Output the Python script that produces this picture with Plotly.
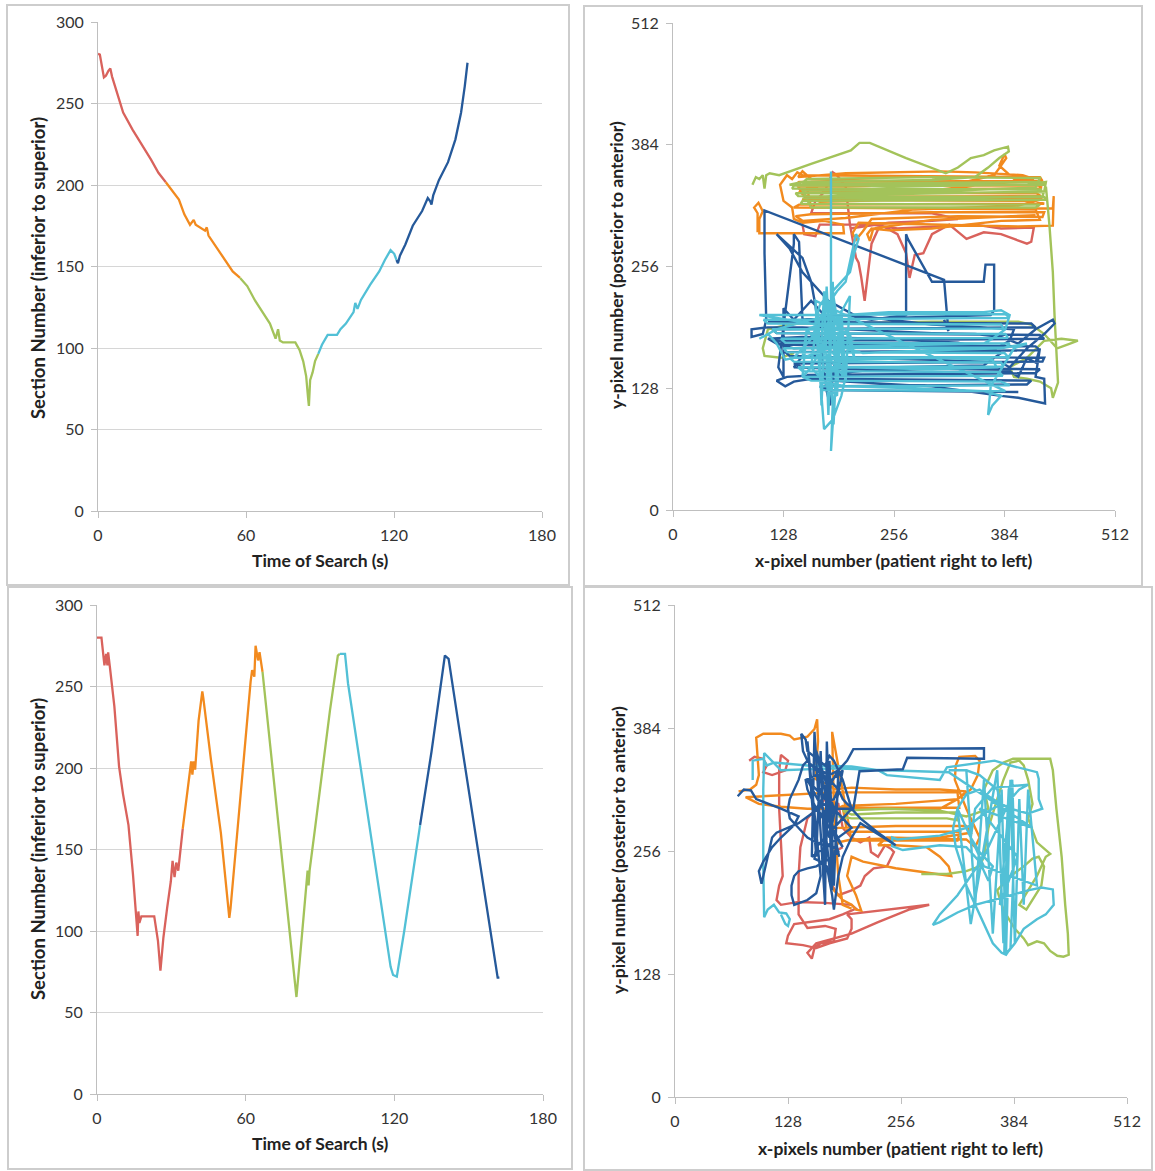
import plotly.graph_objects as go

W, H = 1155, 1171

# ---------------- data: top-left (time vs section) ----------------
TL_RED_T = [0, 0.75, 2.4, 3.2, 4.2, 5.0, 5.7, 8.0, 10.2, 14.0, 17.8, 21.5, 24.5, 27.5]
TL_RED_V = [280.5, 280, 266, 267, 270, 271.5, 266.5, 255, 244.5, 234, 225, 215.6, 207.5, 201.7]
TL_ORA_T = [27.5, 30.5, 32.8, 35.0, 37.3, 38.8, 39.6, 43.4, 44.1, 44.8, 47.9, 51.6, 54.6, 57.6]
TL_ORA_V = [201.7, 196, 191, 182, 175.6, 178.6, 175.6, 172, 174, 169, 162, 153, 147, 143]
TL_GRN_T = [57.6, 60.5, 63.7, 66.7, 69.7, 72.0, 73.0, 73.7, 75.0, 80.0, 81.7, 83.2, 84.4, 85.2, 85.5, 86.0, 87.0, 88.0, 89.3]
TL_GRN_V = [143, 138, 129, 122, 115, 105.7, 111.5, 104.6, 103.4, 103.4, 98.8, 91.8, 82.6, 68.7, 64.5, 80.3, 85, 92, 96.4]
TL_CYA_T = [89.3, 90.8, 93.1, 96.9, 98.3, 100.5, 103.6, 104.3, 105.2, 106.6, 110.3, 114.0, 116.3, 118.6, 120.1, 121.0]
TL_CYA_V = [96.4, 102, 108, 108, 111.5, 115, 122, 127.7, 124, 129.5, 138.7, 147, 154, 160, 157.8, 154]
TL_BLU_T = [121.0, 121.6, 122.4, 124.6, 127.6, 131.4, 133.7, 134.7, 135.2, 135.9, 138.2, 141.9, 144.9, 147.2, 148.7, 149.8]
TL_BLU_V = [154, 152, 156.6, 163.5, 175, 184, 192, 190, 188, 193.6, 203, 214, 228, 244.5, 260.7, 275]

# ---------------- data: bottom-left (time vs section) ----------------
BL_RED_T = [0, 1.8, 3.0, 3.7, 4.2, 4.5, 5.2, 7.0, 8.9, 10.5, 12.7, 14.5, 16.4, 16.7, 17.1, 17.9, 23.1, 24.6, 25.6, 26.8, 28.3, 29.8, 30.5, 31.3, 32.0, 32.8, 34.6]
BL_RED_V = [280, 280, 263, 270, 263, 271, 262, 238, 201, 184, 165, 135, 97, 112, 105, 109, 109, 94, 75.6, 96, 114, 130.5, 143, 133, 142, 137, 162.6]
BL_ORA_T = [34.6, 36.0, 37.3, 38.0, 38.5, 39.0, 39.6, 41.0, 42.5, 42.9, 46.0, 50.0, 53.4, 53.9, 56.0, 58.0, 59.6, 61.0, 62.0, 62.6, 63.5, 64.0, 65.0, 65.6, 66.2, 66.8]
BL_ORA_V = [162.6, 180, 197, 204, 196, 204, 199, 229, 247, 243, 205, 160, 108, 114, 150, 185, 216, 240, 253, 260, 256, 275, 266, 271, 263, 259]
BL_GRN_T = [66.8, 70.0, 73.0, 76.0, 78.5, 80.5, 82.0, 83.5, 85.0, 85.4, 85.8, 88.0, 91.0, 94.0, 97.2, 98.0]
BL_GRN_V = [259, 212, 168, 124, 89, 59.5, 85, 112, 137, 128, 137, 163, 199, 235, 269, 270]
BL_CYA_T = [98.0, 100.1, 101.3, 105.0, 110.0, 115.0, 118.5, 119.5, 121.0, 124.0, 127.0, 130.4]
BL_CYA_V = [270, 270, 252, 214, 163, 113, 78, 73, 72, 100, 130, 165]
BL_BLU_T = [130.4, 135.0, 140.4, 141.9, 146.0, 150.0, 155.0, 160.0, 161.7, 162.4]
BL_BLU_V = [165, 210, 269, 267, 226, 187, 138, 88, 71.4, 71.4]

# ---------------- data: top-right (x-pixel, y-pixel) ----------------
TR_RED = [(150, 300), (152, 290), (165, 288), (170, 300), (200, 300), (230, 300), (260, 296), (300, 298), (350, 300), (380, 296),
          (418, 297), (415, 282), (410, 280), (395, 285), (380, 290), (360, 292), (340, 285), (320, 300), (300, 290), (290, 270),
          (280, 268), (274, 244), (270, 270), (260, 290), (240, 300), (230, 280), (225, 240), (222, 220), (218, 245), (215, 260),
          (212, 265), (205, 300), (200, 340), (190, 352), (185, 355), (180, 345), (176, 335), (170, 330), (165, 325), (160, 312),
          (300, 312), (330, 306), (300, 304), (250, 302), (205, 296)]
TR_ORA = [(98, 292), (98, 312), (94, 318), (99, 323), (104, 314), (100, 306), (100, 291), (198, 291), (197, 300), (175, 304),
          (150, 302), (140, 306), (138, 318), (128, 325), (124, 342), (132, 352), (138, 348), (144, 355), (150, 352), (425, 350),
          (428, 346), (146, 345), (142, 342), (424, 341), (427, 338), (150, 337), (146, 334), (421, 333), (426, 330), (154, 329),
          (150, 326), (420, 325), (430, 322), (146, 321), (140, 318), (432, 317), (440, 317), (441, 330), (440, 299), (400, 298),
          (300, 300), (240, 301), (215, 302), (208, 291), (212, 284), (220, 293), (230, 306), (330, 309), (428, 308), (430, 313),
          (300, 313), (160, 311), (142, 309), (150, 304), (200, 307), (280, 316), (400, 320), (428, 327), (300, 327), (170, 324),
          (150, 332), (145, 340), (200, 340), (330, 343), (372, 352), (380, 362), (386, 370), (384, 374), (378, 362), (395, 348),
          (420, 344), (428, 341), (250, 346), (160, 348), (150, 356), (145, 350), (200, 354), (310, 356), (350, 355), (405, 352),
          (418, 348), (300, 336), (180, 335), (155, 340), (160, 318), (420, 316), (425, 305), (380, 304), (300, 296), (250, 294),
          (230, 296), (225, 290), (228, 283), (232, 296), (300, 305), (420, 310)]
TR_GRN = [(92, 342), (96, 350), (100, 348), (104, 352), (106, 338), (108, 352), (112, 354), (123, 352), (160, 364), (206, 378),
          (216, 386), (228, 386), (270, 370), (316, 354), (330, 360), (345, 370), (360, 373), (372, 378), (388, 382), (389, 377),
          (378, 370), (365, 360), (350, 350), (300, 347), (220, 346), (150, 345), (135, 342), (200, 343), (320, 344), (425, 345),
          (430, 342), (140, 341), (138, 338), (426, 337), (428, 334), (142, 333), (145, 330), (430, 329), (432, 326), (150, 325),
          (148, 322), (425, 321), (420, 318), (160, 318), (150, 336), (300, 335), (420, 339), (425, 349), (300, 350), (155, 348),
          (150, 344), (250, 340), (410, 342), (432, 345), (430, 335), (200, 331), (150, 328), (300, 327), (428, 330), (432, 340),
          (436, 300), (440, 250), (442, 204), (444, 162), (446, 134), (440, 118), (438, 128), (425, 135), (410, 138), (395, 140),
          (390, 150), (410, 160), (430, 178), (450, 180), (469, 178), (460, 175), (445, 170), (430, 185), (415, 195), (400, 198),
          (300, 198), (200, 196), (140, 196), (110, 190), (104, 170), (106, 162), (125, 160), (140, 165)]
TR_BLU = [(314, 200), (319, 188), (314, 242), (106, 315), (106, 270), (108, 200), (104, 185), (91, 182), (91, 190), (110, 192),
          (150, 192), (200, 190), (250, 188), (300, 186), (350, 185), (380, 182), (400, 175), (420, 190), (440, 200), (442, 196),
          (430, 185), (410, 170), (400, 160), (390, 150), (380, 155), (300, 158), (200, 160), (150, 162), (140, 150), (200, 148),
          (300, 145), (390, 146), (400, 140), (410, 160), (420, 155), (425, 170), (420, 140), (430, 138), (431, 112), (400, 118),
          (380, 120), (300, 130), (200, 135), (160, 138), (140, 135), (130, 130), (120, 136), (132, 140), (170, 142), (260, 150),
          (360, 152), (380, 165), (300, 170), (200, 172), (140, 170), (120, 175), (110, 180), (150, 182), (240, 180), (330, 176),
          (370, 168), (390, 178), (395, 190), (360, 192), (300, 195), (250, 200), (210, 205), (180, 220), (150, 250), (135, 275),
          (120, 290), (150, 265), (160, 240), (165, 215), (170, 180), (175, 150), (178, 125), (182, 110), (185, 140), (190, 170),
          (180, 200), (160, 220), (140, 200), (130, 210), (128, 212), (128, 140), (122, 150), (140, 280), (140, 290), (146, 282),
          (150, 200), (200, 205), (230, 200), (270, 205), (270, 290), (272, 285), (300, 240), (360, 240), (362, 258), (372, 258),
          (372, 210), (368, 205), (110, 198), (415, 196), (420, 192), (115, 190), (120, 186), (425, 184), (430, 180), (118, 178),
          (125, 174), (420, 172), (425, 168), (130, 166), (135, 162), (430, 160), (428, 156), (140, 154), (150, 150), (425, 148),
          (420, 144), (155, 142), (160, 138), (415, 136), (410, 132), (170, 130), (180, 126), (400, 124)]
TR_CYA = [(183, 356), (183, 200), (180, 150), (185, 110), (183, 62), (186, 100), (188, 130), (192, 160), (190, 200), (185, 230),
          (195, 240), (205, 250), (210, 270), (215, 285), (212, 290), (200, 240), (190, 230), (175, 210), (160, 180), (150, 170),
          (140, 160), (130, 158), (120, 175), (110, 185), (100, 180), (120, 190), (160, 200), (200, 205), (250, 208), (300, 208),
          (360, 208), (380, 210), (390, 205), (385, 190), (370, 180), (360, 175), (300, 174), (200, 172), (160, 170), (170, 160),
          (200, 158), (300, 160), (370, 158), (375, 150), (300, 148), (200, 150), (170, 145), (175, 135), (200, 130), (280, 128),
          (360, 125), (380, 120), (370, 110), (365, 100), (368, 130), (375, 140), (395, 170), (410, 175), (380, 170), (300, 168),
          (220, 165), (200, 170), (180, 190), (175, 175), (190, 160), (200, 140), (195, 120), (185, 95), (175, 85), (172, 120),
          (168, 170), (165, 200), (170, 215), (178, 225), (182, 210), (186, 180), (190, 120), (180, 130), (160, 150), (150, 140),
          (155, 190), (170, 195), (205, 185), (210, 160), (200, 190), (100, 205), (385, 206), (390, 202), (105, 200), (110, 196),
          (380, 195), (383, 191), (115, 190), (120, 186), (385, 185), (388, 181), (125, 180), (130, 176), (390, 175), (386, 171),
          (128, 170), (132, 166), (384, 165), (388, 161), (135, 160), (140, 156), (380, 155), (383, 151), (145, 150), (150, 146),
          (378, 145), (382, 141), (150, 140), (160, 136), (380, 135), (390, 131), (170, 130), (175, 126), (385, 125), (165, 220),
          (170, 140), (175, 230), (180, 100), (185, 240), (190, 120), (195, 210), (200, 135), (205, 225), (160, 150), (168, 210),
          (172, 110), (178, 235), (186, 90), (192, 205), (198, 140), (155, 190), (150, 160), (210, 180)]

# ---------------- data: bottom-right (x-pixel, y-pixel) ----------------
BR_RED = [(84, 350), (90, 354), (100, 352), (104, 345), (100, 338), (110, 335), (125, 340), (128, 350), (120, 356), (118, 340),
          (118, 300), (120, 260), (122, 230), (118, 220), (115, 205), (120, 200), (140, 203), (170, 202), (200, 200), (205, 196),
          (190, 190), (175, 185), (150, 182), (135, 180), (128, 168), (126, 160), (145, 158), (160, 155), (175, 160), (195, 165),
          (200, 175), (200, 185), (195, 190), (288, 200), (265, 195), (230, 182), (200, 170), (160, 160), (150, 150), (155, 144),
          (158, 155), (165, 160), (180, 162), (182, 175), (170, 178), (150, 176), (140, 190), (140, 230), (142, 260), (150, 290),
          (160, 300), (170, 310), (185, 305), (190, 280), (200, 270), (210, 265), (220, 270), (222, 255), (230, 250), (238, 262),
          (245, 258), (248, 255), (240, 240), (225, 238), (215, 230), (210, 220), (200, 215), (185, 210), (178, 220), (175, 240),
          (180, 255), (190, 260)]
BR_ORA = [(72, 318), (85, 320), (92, 325), (95, 335), (92, 374), (100, 378), (120, 378), (130, 376), (135, 372), (150, 375),
          (158, 383), (161, 393), (162, 370), (160, 340), (159, 331), (165, 328), (175, 325), (180, 320), (200, 322), (250, 320),
          (300, 320), (330, 318), (320, 310), (250, 305), (190, 303), (180, 298), (175, 290), (180, 280), (250, 282), (330, 282),
          (335, 275), (300, 270), (200, 268), (185, 265), (180, 255), (178, 240), (175, 225), (180, 215), (190, 205), (200, 200),
          (205, 195), (211, 194), (205, 210), (195, 230), (200, 250), (213, 245), (250, 238), (313, 230), (310, 240), (300, 250),
          (285, 260), (250, 262), (230, 262), (240, 270), (330, 268), (340, 260), (345, 270), (330, 300), (317, 330), (318, 345),
          (322, 354), (340, 355), (345, 350), (343, 335), (335, 320), (320, 310), (300, 300), (200, 300), (150, 300), (120, 302),
          (95, 305), (80, 312), (180, 317), (320, 317), (322, 301), (190, 301), (195, 276), (323, 276), (320, 267), (200, 267),
          (178, 380), (180, 300), (185, 230), (190, 200), (200, 196)]
BR_GRN = [(185, 292), (200, 290), (240, 290), (280, 290), (308, 290), (320, 288), (320, 296), (250, 296), (200, 294), (190, 298),
          (240, 300), (300, 298), (330, 292), (340, 295), (355, 300), (350, 320), (360, 340), (372, 348), (383, 352), (425, 352),
          (428, 340), (432, 300), (438, 250), (442, 200), (445, 170), (446, 148), (440, 146), (433, 147), (425, 152), (418, 160),
          (410, 162), (400, 158), (395, 165), (385, 175), (375, 190), (370, 200), (365, 215), (380, 230), (395, 240), (405, 248),
          (412, 250), (415, 245), (418, 240), (415, 220), (405, 205), (398, 195), (390, 200), (400, 215), (410, 230), (420, 250),
          (425, 253), (410, 265), (400, 290), (405, 305), (400, 330), (395, 345), (390, 350), (380, 348), (372, 330), (365, 310),
          (355, 280), (350, 250), (345, 240), (330, 235), (308, 232), (279, 232)]
BR_CYA = [(88, 330), (88, 350), (100, 352), (104, 345), (112, 348), (125, 347), (150, 345), (200, 344), (230, 340), (240, 335),
          (300, 330), (308, 343), (330, 346), (362, 350), (380, 345), (400, 340), (410, 338), (412, 331), (412, 310), (416, 300),
          (400, 295), (380, 300), (360, 310), (345, 320), (330, 315), (320, 300), (315, 280), (318, 260), (325, 240), (330, 220),
          (340, 200), (350, 180), (360, 160), (370, 150), (375, 148), (380, 155), (382, 200), (384, 250), (383, 300), (382, 330),
          (378, 320), (376, 280), (375, 230), (374, 180), (373, 150), (378, 152), (385, 160), (395, 175), (410, 185), (420, 190),
          (429, 200), (428, 216), (415, 218), (400, 215), (380, 210), (360, 205), (340, 200), (320, 192), (300, 182), (292, 179),
          (300, 190), (320, 210), (335, 230), (350, 250), (360, 270), (370, 290), (380, 310), (390, 320), (400, 325), (360, 322),
          (340, 300), (335, 270), (345, 255), (360, 240), (355, 225), (345, 245), (330, 260), (300, 262), (258, 257), (246, 261),
          (246, 270), (252, 268), (300, 272), (330, 280), (350, 295), (370, 305), (365, 320), (345, 335), (330, 340), (310, 340),
          (330, 340), (340, 200), (350, 330), (360, 170), (370, 320), (375, 150), (380, 330), (385, 160), (390, 310), (395, 200),
          (400, 320), (410, 220), (350, 240), (320, 300), (335, 180), (365, 340), (372, 160), (378, 300), (368, 200), (388, 250),
          (345, 300), (405, 280), (310, 338), (240, 340), (180, 342), (120, 340), (101, 358), (100, 320), (100, 280), (100, 240),
          (101, 187), (105, 195), (112, 200), (118, 192), (126, 191), (130, 185), (128, 178), (125, 180), (120, 190)]
BR_BLU = [(71, 313), (78, 320), (86, 319), (92, 310), (120, 300), (140, 292), (135, 283), (120, 270), (110, 260), (100, 245),
          (95, 235), (98, 222), (105, 250), (110, 270), (115, 275), (140, 285), (155, 295), (170, 305), (180, 310), (185, 320),
          (175, 330), (160, 340), (150, 350), (145, 360), (143, 378), (148, 372), (150, 360), (160, 352), (170, 345), (175, 355),
          (180, 350), (185, 340), (190, 330), (195, 315), (200, 300), (190, 290), (180, 280), (170, 270), (160, 260), (158, 248),
          (165, 245), (172, 240), (175, 225), (178, 210), (180, 195), (182, 210), (185, 230), (190, 250), (200, 270), (210, 285),
          (250, 262), (230, 275), (210, 290), (200, 300), (185, 300), (170, 290), (160, 300), (150, 320), (148, 330), (160, 335),
          (175, 330), (185, 320), (190, 310), (195, 305), (202, 300), (209, 339), (258, 341), (263, 353), (350, 352), (350, 363),
          (202, 362), (195, 350), (185, 340), (175, 335), (165, 340), (155, 345), (150, 350), (145, 345), (140, 330), (135, 320),
          (130, 310), (128, 300), (130, 290), (140, 280), (150, 270), (160, 265), (170, 262), (180, 260), (185, 255), (178, 250),
          (170, 245), (160, 240), (150, 238), (140, 235), (135, 230), (132, 220), (132, 210), (135, 200), (150, 205), (160, 212),
          (165, 230), (150, 370), (160, 250), (165, 360), (170, 230), (175, 350), (180, 220), (185, 340), (160, 300), (190, 260),
          (150, 330), (200, 280), (155, 250), (158, 380), (170, 200), (172, 370), (178, 215), (165, 320), (190, 340), (175, 270),
          (168, 290), (180, 300), (160, 360), (186, 250)]

TIME_TICKS = [0, 60, 120, 180]
SECTION_TICKS = [0, 50, 100, 150, 200, 250, 300]
PIXEL_TICKS = [0, 128, 256, 384, 512]

RED, ORANGE, GREEN, CYAN, BLUE = "#D9625C", "#F28A1E", "#A3C35A", "#52C0D6", "#25599A"

fig = go.Figure()

def line(x, y, color, xa, ya, w):
    fig.add_trace(go.Scatter(x=x, y=y, mode="lines", line=dict(color=color, width=w),
                             xaxis=xa, yaxis=ya, showlegend=False, hoverinfo="skip"))

def path(pts, color, xa, ya):
    line([p[0] for p in pts], [p[1] for p in pts], color, xa, ya, 2.4)

for t, v, c in [(TL_RED_T, TL_RED_V, RED), (TL_ORA_T, TL_ORA_V, ORANGE), (TL_GRN_T, TL_GRN_V, GREEN),
                (TL_CYA_T, TL_CYA_V, CYAN), (TL_BLU_T, TL_BLU_V, BLUE)]:
    line(t, v, c, "x", "y", 2.3)
for pts, c in [(TR_RED, RED), (TR_ORA, ORANGE), (TR_GRN, GREEN), (TR_BLU, BLUE), (TR_CYA, CYAN)]:
    path(pts, c, "x2", "y2")
for t, v, c in [(BL_RED_T, BL_RED_V, RED), (BL_ORA_T, BL_ORA_V, ORANGE), (BL_GRN_T, BL_GRN_V, GREEN),
                (BL_CYA_T, BL_CYA_V, CYAN), (BL_BLU_T, BL_BLU_V, BLUE)]:
    line(t, v, c, "x3", "y3", 2.3)
for pts, c in [(BR_RED, RED), (BR_ORA, ORANGE), (BR_GRN, GREEN), (BR_CYA, CYAN), (BR_BLU, BLUE)]:
    path(pts, c, "x4", "y4")

def px(v):
    return v / W

def py(v):
    return 1 - v / H

AX = "#BFBFBF"
GRID = "#D6D6D6"
FAM = "Lato, Open Sans, sans-serif"
TICKFONT = dict(family=FAM, size=16, color="#333333")

def xax(dom, anchor, rng, ticks):
    return dict(domain=dom, anchor=anchor, range=rng, tickvals=ticks, showgrid=False, zeroline=False,
                showline=True, linecolor=AX, linewidth=1, ticks="outside", ticklen=6, tickcolor=AX,
                tickfont=TICKFONT, ticklabelstandoff=4, fixedrange=True, automargin=False)

def yax(dom, anchor, rng, ticks, grid):
    return dict(domain=dom, anchor=anchor, range=rng, tickvals=ticks, showgrid=grid, gridcolor=GRID,
                gridwidth=1, zeroline=False, showline=True, linecolor=AX, linewidth=1, ticks="outside",
                ticklen=6, tickcolor=AX, tickfont=TICKFONT, ticklabelstandoff=4, fixedrange=True,
                automargin=False)

fig.update_layout(
    width=W, height=H, margin=dict(l=0, r=0, t=0, b=0, autoexpand=False),
    paper_bgcolor="white", plot_bgcolor="white", showlegend=False,
    xaxis=xax([px(98), px(542)], "y", [0, 180], TIME_TICKS),
    yaxis=yax([py(511), py(22)], "x", [0, 300], SECTION_TICKS, True),
    xaxis2=xax([px(673), px(1115)], "y2", [0, 512], PIXEL_TICKS),
    yaxis2=yax([py(510), py(23)], "x2", [0, 512], PIXEL_TICKS, False),
    xaxis3=xax([px(97), px(543)], "y3", [0, 180], TIME_TICKS),
    yaxis3=yax([py(1094), py(605)], "x3", [0, 300], SECTION_TICKS, True),
    xaxis4=xax([px(675), px(1127)], "y4", [0, 512], PIXEL_TICKS),
    yaxis4=yax([py(1097), py(605)], "x4", [0, 512], PIXEL_TICKS, False),
)

for x0, y0, x1, y1 in [(7, 5, 569, 585), (584, 6, 1142, 586), (8, 587, 572, 1169), (584, 587, 1152, 1170)]:
    fig.add_shape(type="rect", xref="paper", yref="paper", x0=px(x0), y0=py(y0), x1=px(x1), y1=py(y1),
                  line=dict(color="#CDCDCD", width=2), fillcolor="rgba(0,0,0,0)", layer="below")

titles = [
    ("Time of Search (s)", 320, 560, 0, 17.5),
    ("Section Number (inferior to superior)", 38, 268, -90, 18.5),
    ("x-pixel number (patient right to left)", 894, 560, 0, 17.5),
    ("y-pixel number (posterior to anterior)", 616, 265, -90, 17.5),
    ("Time of Search (s)", 320, 1143, 0, 17.5),
    ("Section Number (inferior to superior)", 38, 849, -90, 18.5),
    ("x-pixels number (patient right to left)", 900, 1148, 0, 17.5),
    ("y-pixel number (posterior to anterior)", 618, 850, -90, 17.5),
]
for text, cx, cy, ang, sz in titles:
    fig.add_annotation(text="<b>%s</b>" % text, x=px(cx), y=py(cy), xref="paper", yref="paper",
                       showarrow=False, textangle=ang, font=dict(family=FAM, size=sz, color="#222222"),
                       xanchor="center", yanchor="middle")

fig.write_html("out.html", config={"displayModeBar": False},
               post_script="document.body.style.margin='0px';document.body.style.overflow='hidden';")
